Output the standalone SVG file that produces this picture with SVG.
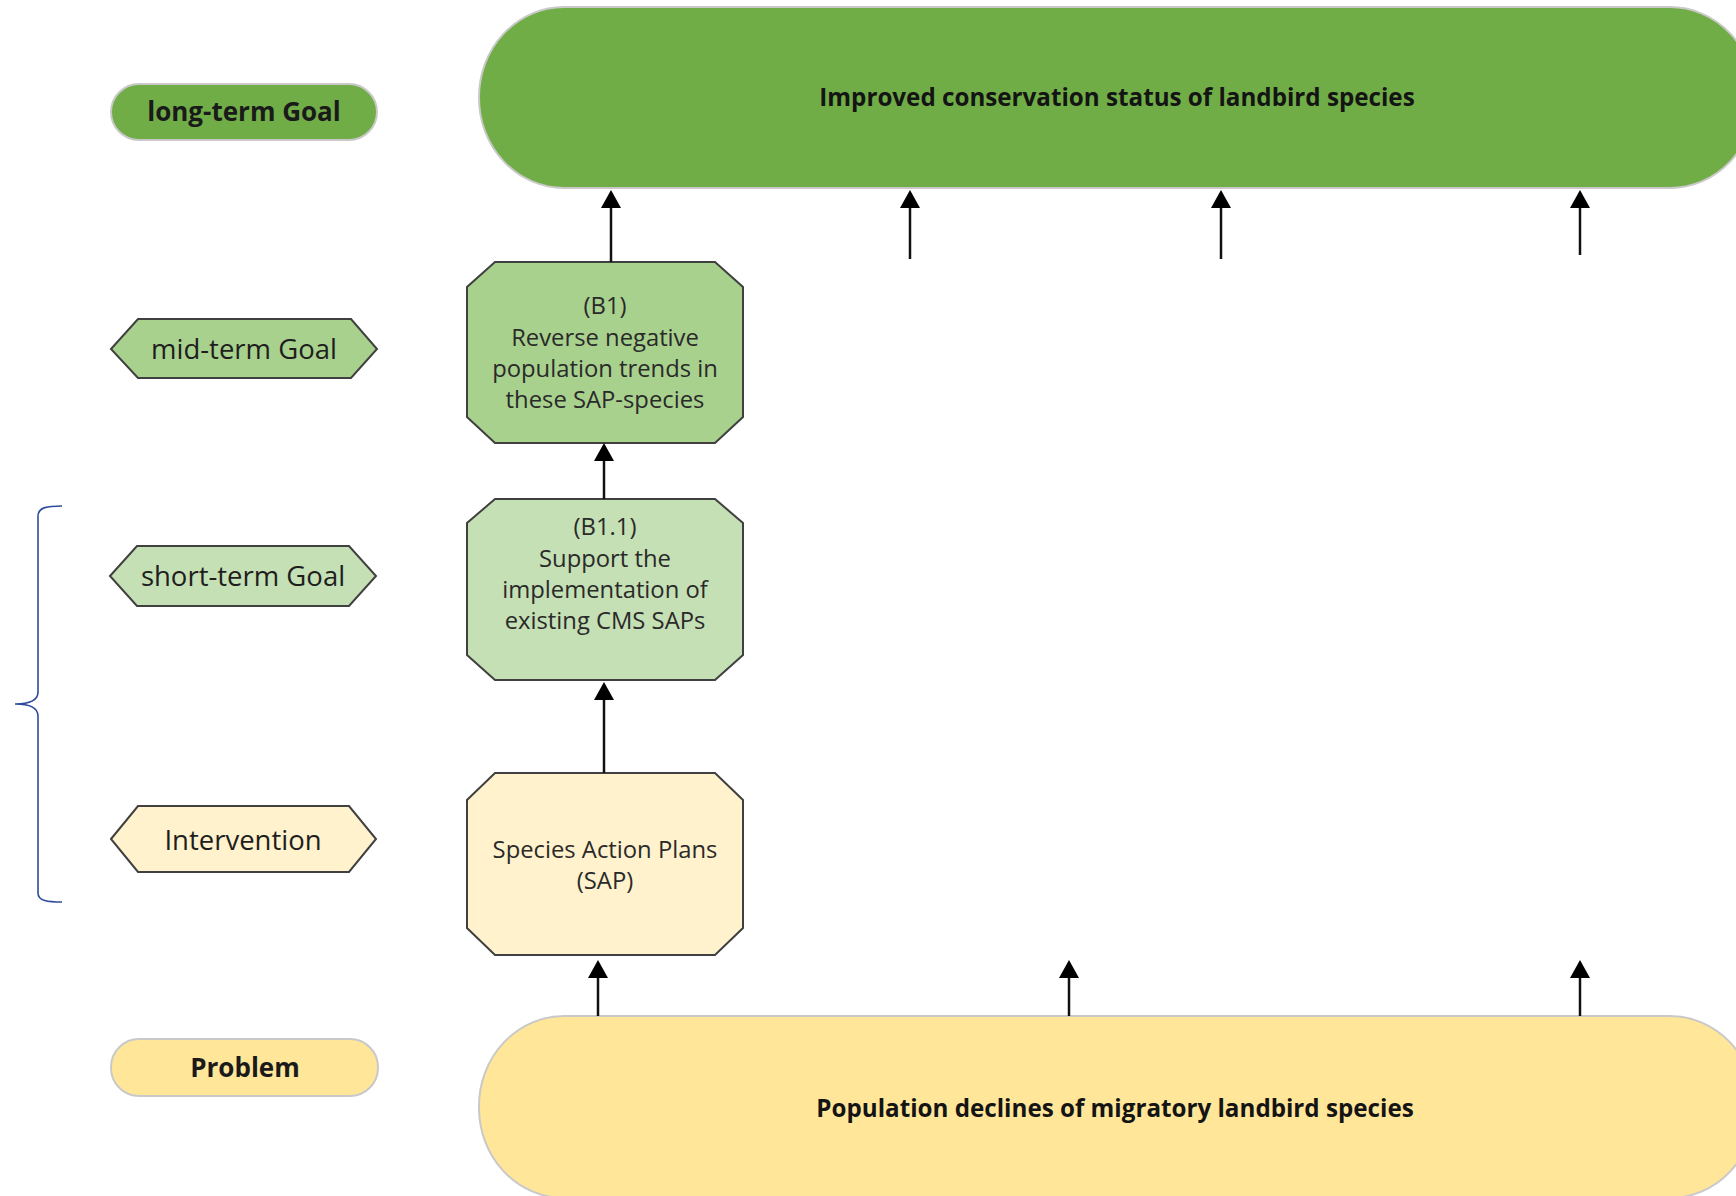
<svg xmlns="http://www.w3.org/2000/svg" width="1736" height="1196" viewBox="0 0 1736 1196">
<style>
  .pill { stroke: #c9c9c9; stroke-width: 2; }
  .oct { stroke: #404040; stroke-width: 2; }
  .lbl { font-family: "Open Sans", "Noto Sans", sans-serif; font-size: 27.5px; fill: #1e1e1e; text-anchor: middle; }
  .lblb { font-family: "Open Sans", "Noto Sans", sans-serif; font-size: 26px; font-weight: bold; fill: #1a1a1a; text-anchor: middle; }
  .node { font-family: "Open Sans", "Noto Sans", sans-serif; font-size: 23.8px; fill: #2a2a2a; text-anchor: middle; }
  .title { font-family: "Open Sans", "Noto Sans", sans-serif; font-size: 24.2px; font-weight: bold; fill: #141414; text-anchor: middle; }
  .arr { stroke: #111; stroke-width: 2.5; fill: none; marker-end: url(#ah); }
</style>
<defs>
  <marker id="ah" viewBox="0 0 18 20" refX="0" refY="10" markerWidth="18" markerHeight="20" markerUnits="userSpaceOnUse" orient="auto">
    <path d="M0,0 L18,10 L0,20 z" fill="#000"/>
  </marker>
</defs>
<rect width="1736" height="1196" fill="#ffffff"/>

<g id="legend-long-term">
  <rect class="pill" x="111" y="84" width="266" height="56" rx="28" ry="28" fill="#70AD47"/>
  <text class="lblb" x="244" y="121">long-term Goal</text>
</g>
<g id="legend-mid-term">
  <polygon class="oct" points="111,349 138,319 351,319 377,349 351,378 138,378" fill="#A9D18E"/>
  <text class="lbl" x="244" y="359">mid-term Goal</text>
</g>
<g id="legend-short-term">
  <polygon class="oct" points="110,576 137,546 349,546 376,576 349,606 137,606" fill="#C5E0B4"/>
  <text class="lbl" x="243" y="586">short-term Goal</text>
</g>
<g id="legend-intervention">
  <polygon class="oct" points="111,839 138,806 349,806 376,839 349,872 138,872" fill="#FFF2CC"/>
  <text class="lbl" x="243" y="850">Intervention</text>
</g>
<g id="legend-problem">
  <rect class="pill" x="111" y="1039" width="267" height="57" rx="28" ry="28" fill="#FFE699"/>
  <text class="lblb" x="245" y="1077">Problem</text>
</g>

<g id="brace">
  <path d="M62,506 C48,506 38,507 38,516 L38,692 C38,700 30,704 15,704 C30,704 38,708 38,716 L38,893 C38,901 48,902 62,902" fill="none" stroke="#2E4C9E" stroke-width="1.6"/>
</g>

<g id="goal-long">
  <rect class="pill" x="479" y="7" width="1276" height="181" rx="85" ry="90" fill="#70AD47"/>
  <text class="title" x="1117" y="106">Improved conservation status of landbird species</text>
</g>
<g id="problem">
  <rect class="pill" x="479" y="1016" width="1276" height="182" rx="85" ry="90" fill="#FFE699"/>
  <text class="title" x="1115" y="1117">Population declines of migratory landbird species</text>
</g>

<g id="b1">
  <polygon class="oct" points="495,262 715,262 743,287 743,417 715,443 495,443 467,417 467,287" fill="#A9D18E"/>
  <text class="node" x="605" y="314">(B1)</text>
  <text class="node" x="605" y="346">Reverse negative</text>
  <text class="node" x="605" y="377">population trends in</text>
  <text class="node" x="605" y="408">these SAP-species</text>
</g>
<g id="b1-1">
  <polygon class="oct" points="495,499 715,499 743,523 743,655 715,680 495,680 467,655 467,523" fill="#C5E0B4"/>
  <text class="node" x="605" y="535">(B1.1)</text>
  <text class="node" x="605" y="567">Support the</text>
  <text class="node" x="605" y="598">implementation of</text>
  <text class="node" x="605" y="629">existing CMS SAPs</text>
</g>
<g id="sap">
  <polygon class="oct" points="495,773 715,773 743,800 743,928 715,955 495,955 467,928 467,800" fill="#FFF2CC"/>
  <text class="node" x="605" y="858">Species Action Plans</text>
  <text class="node" x="605" y="889">(SAP)</text>
</g>

<g id="connectors">
  <line class="arr" x1="611" y1="262" x2="611" y2="208"/>
  <line class="arr" x1="910" y1="259" x2="910" y2="208"/>
  <line class="arr" x1="1221" y1="259" x2="1221" y2="208"/>
  <line class="arr" x1="1580" y1="255" x2="1580" y2="208"/>
  <line class="arr" x1="604" y1="499" x2="604" y2="461"/>
  <line class="arr" x1="604" y1="773" x2="604" y2="700"/>
  <line class="arr" x1="598" y1="1016" x2="598" y2="978"/>
  <line class="arr" x1="1069" y1="1016" x2="1069" y2="978"/>
  <line class="arr" x1="1580" y1="1016" x2="1580" y2="978"/>
</g>
</svg>
